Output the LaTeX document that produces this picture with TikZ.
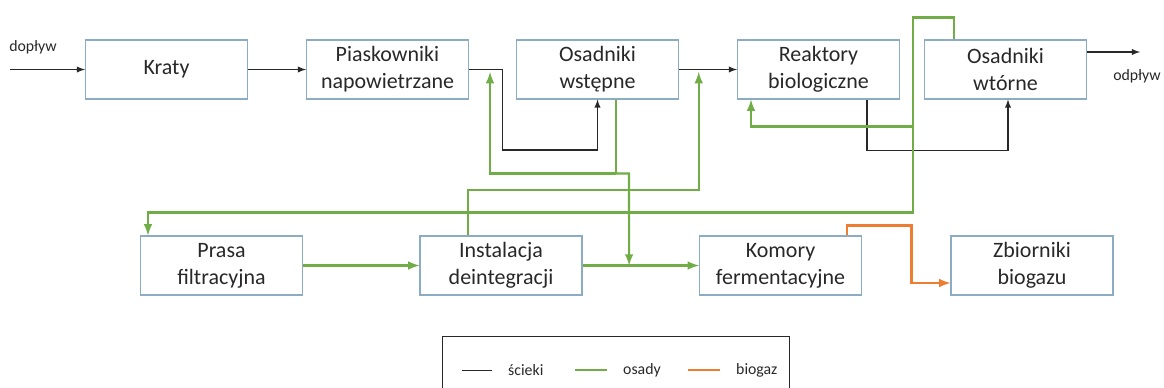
\documentclass[tikz,border=0pt]{standalone}
\usepackage{fontspec}
\setmainfont{Carlito}
\usetikzlibrary{calc}
\definecolor{ramka}{RGB}{140,172,196}
\definecolor{zielony}{RGB}{112,173,71}
\definecolor{pomar}{RGB}{237,125,49}
\definecolor{ciemny}{RGB}{40,40,40}
\tikzset{
 blok/.style={draw=ramka,line width=0.6pt,minimum width=3.24cm,minimum height=1.18cm,align=center,
  font=\fontsize{12.5}{15.5}\selectfont,text=ciemny,inner sep=1pt},
 sciek/.style={draw=ciemny,line width=0.6pt},
 osad/.style={draw=zielony,line width=1.2pt},
 bio/.style={draw=pomar,line width=1.2pt},
 opis/.style={font=\fontsize{9}{11}\selectfont,text=ciemny},
}
\begin{document}
\begin{tikzpicture}
\useasboundingbox (0,0) rectangle (23.28,-7.76);
%
\node[blok] (kraty) at (3.33,-1.39) {Kraty};
\node[blok] (piask) at (7.75,-1.39) {Piaskowniki\\napowietrzane};
\node[blok] (osw) at (11.95,-1.39) {Osadniki\\wstępne};
\node[blok] (reakt) at (16.37,-1.39) {Reaktory\\biologiczne};
\node[blok] (osnw) at (20.11,-1.39) {Osadniki\\wtórne};
\node[blok] (prasa) at (4.43,-5.31) {Prasa\\filtracyjna};
\node[blok] (inst) at (10.02,-5.31) {Instalacja\\deintegracji};
\node[blok] (komory) at (15.61,-5.31) {Komory\\fermentacyjne};
\node[blok] (zbior) at (20.64,-5.31) {Zbiorniki\\biogazu};
%
\coordinate (wlot) at (0.2,-1.39);
\coordinate (wylot) at (22.8,-1.04);
\node[opis] (doplyw) at (0.66,-0.94) {dopływ};
\node[opis] (odplyw) at (22.74,-1.52) {odpływ};
\coordinate (p1) at ($(piask.east)+(0.42,-0.05)$);
\coordinate (p2) at ($(osw.east)!0.34!(reakt.west)+(0,-0.05)$);
%
\draw[sciek,-latex] (wlot) -- (kraty);
\draw[sciek,-latex] (kraty) -- (piask);
\draw[sciek,-latex] (piask.east) -- ++(0.66,0) -- ++(0,-1.61) -| (osw.south);
\draw[sciek,-latex] (osw) -- (reakt);
\draw[sciek,-latex] ([xshift=0.97cm]reakt.south) -- ++(0,-1.02) -| ([xshift=0.05cm]osnw.south);
\draw[sciek,-latex] ([yshift=0.35cm]osnw.east) -- (wylot);
%
\draw[osad] ([xshift=0.37cm]osw.south) -- ++(0,-1.48) coordinate (j1);
\draw[osad,-latex] (j1) -| (p1);
\draw[osad,-latex] (j1) -- ++(0.26,0) -- ($(inst.east)!0.4!(komory.west)$);
\draw[osad,-latex] ([xshift=-0.66cm]inst.north) |- ($(p2)+(0,-2.36)$) -- (p2);
\draw[osad,-latex] ([xshift=-1.03cm]osnw.north) -- ++(0,0.44) -- ++(-0.82,0) coordinate (j2) -- ++(0,-3.9) -| ([xshift=-1.47cm]prasa.north);
\draw[osad,-latex] ($(j2)+(0,-2.18)$) -| ([xshift=-1.35cm]reakt.south);
\draw[osad,-latex] (prasa) -- (inst);
\draw[osad,-latex] (inst) -- (komory);
%
\draw[bio,-latex] ([xshift=1.33cm]komory.north) -- ++(0,0.2) -| ($(zbior.west)+(-0.78,-0.35)$) -- ([yshift=-0.35cm]zbior.west);
%
\draw[draw=ciemny,line width=0.5pt] (8.84,-7.9) |- (15.78,-6.72) -- (15.78,-7.9);
\node[opis,anchor=west] (lsciek) at (10.04,-7.4) {ścieki};
\node[opis,anchor=west] (losad) at (12.34,-7.4) {osady};
\node[opis,anchor=west] (lbio) at (14.6,-7.4) {biogaz};
\draw[sciek,line width=0.5pt] ([xshift=-0.2cm]lsciek.west) -- ++(-0.6,0);
\draw[osad] ([xshift=-0.2cm]losad.west) -- ++(-0.64,0);
\draw[bio] ([xshift=-0.2cm]lbio.west) -- ++(-0.64,0);
\end{tikzpicture}
\end{document}
